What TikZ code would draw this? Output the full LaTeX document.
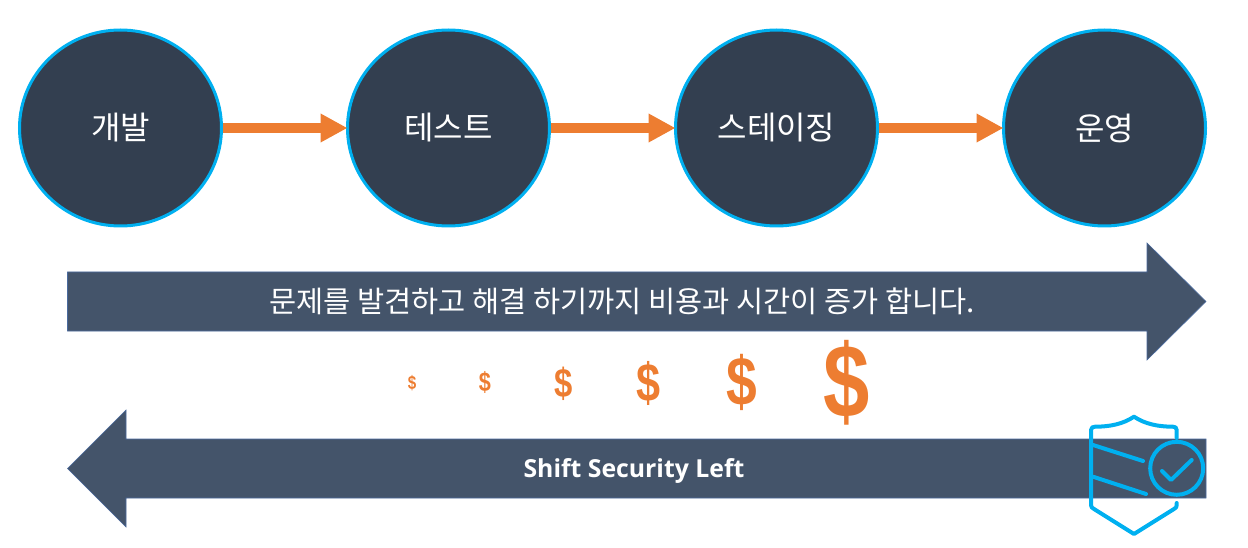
\documentclass[tikz,border=0pt]{standalone}
\usepackage{fontspec}
\usepackage{graphicx}
\usetikzlibrary{arrows.meta,shapes.geometric}
\setmainfont{Open Sans}
\newfontfamily\krfont{Noto Sans CJK KR}
\newfontfamily\costfont{Liberation Sans}
\definecolor{stagefill}{HTML}{333F50}
\definecolor{cyanline}{HTML}{00B0F0}
\definecolor{flow}{HTML}{ED7D31}
\definecolor{bar}{HTML}{44546A}
\definecolor{barline}{HTML}{4A6A9E}
\newcommand{\costsign}{\scalebox{.8}[1]{\$}}
\tikzset{
  stage/.style={ellipse,draw=cyanline,line width=3pt,fill=stagefill,minimum width=202pt,minimum height=196pt,inner sep=0pt,text=white,font=\krfont\fontsize{32}{36}\selectfont},
  flowarrow/.style={draw=flow,line width=9.5pt,-{Triangle[length=27pt,width=27pt]},shorten >=-1.5pt},
  bigbar/.style={fill=bar,draw=barline,line width=0.6pt},
  barlabel/.style={text=white,inner sep=0pt},
  cost/.style={text=flow,inner sep=0pt,font=\costfont\bfseries\fontsize{#1}{#1}\selectfont},
  shieldline/.style={draw=cyanline,line width=4pt,line cap=round,line join=round}
}
\begin{document}
\begin{tikzpicture}[x=1pt,y=-1pt]
\useasboundingbox (0,0) rectangle (1248,548);
\node[stage] (dev) at (120.5,128) {개발};
\node[stage] (test) at (448.5,128) {테스트};
\node[stage] (stg) at (776.5,128) {스테이징};
\node[stage] (ops) at (1104.5,128) {운영};
\draw[flowarrow] (dev.east) -- (test.west);
\draw[flowarrow] (test.east) -- (stg.west);
\draw[flowarrow] (stg.east) -- (ops.west);
\draw[bigbar] (67.5,272) -- (1147,272) -- (1147,243) -- (1206,301.5) -- (1147,360) -- (1147,331) -- (67.5,331) -- cycle;
\node[barlabel,font=\krfont\fontsize{29.5}{34}\selectfont] (cost) at (622,301) {문제를 발견하고 해결 하기까지 비용과 시간이 증가 합니다.};
\draw[bigbar] (1206,439) -- (126,439) -- (126,410) -- (67.5,468.5) -- (126,527) -- (126,498) -- (1206,498) -- cycle;
\node[barlabel,font=\bfseries\fontsize{24.8}{30}\selectfont] (left) at (634,470.5) {Shift Security Left};
\node[cost=19] (d1) at (412,383) {\costsign};
\node[cost=27] (d2) at (485,382.5) {\costsign};
\node[cost=41] (d3) at (563.5,383.5) {\costsign};
\node[cost=54] (d4) at (649,383) {\costsign};
\node[cost=69] (d5) at (742,382) {\costsign};
\node[cost=104] (d6) at (847,382.5) {\costsign};
\draw[shieldline] (1176.7,438) -- (1176.7,430) .. controls (1176.7,427.5) and (1175,426.7) .. (1173,426.7) .. controls (1158,426.7) and (1145,424) .. (1134,416.7) .. controls (1123,424) and (1110,426.7) .. (1095,426.7) .. controls (1093,426.7) and (1091,427.5) .. (1091,430) -- (1091,505) .. controls (1091,507) and (1092,508) .. (1094,509) -- (1134,534) -- (1174,509) .. controls (1176,508) and (1176.7,507) .. (1176.7,505) -- (1176.7,503);
\draw[shieldline] (1093,445) -- (1143,461);
\draw[shieldline] (1093,476.7) -- (1146,494);
\draw[shieldline] (1176.7,468.3) circle[radius=26.5];
\draw[shieldline] (1191.7,460) -- (1171,480) -- (1162,471);
\end{tikzpicture}
\end{document}
